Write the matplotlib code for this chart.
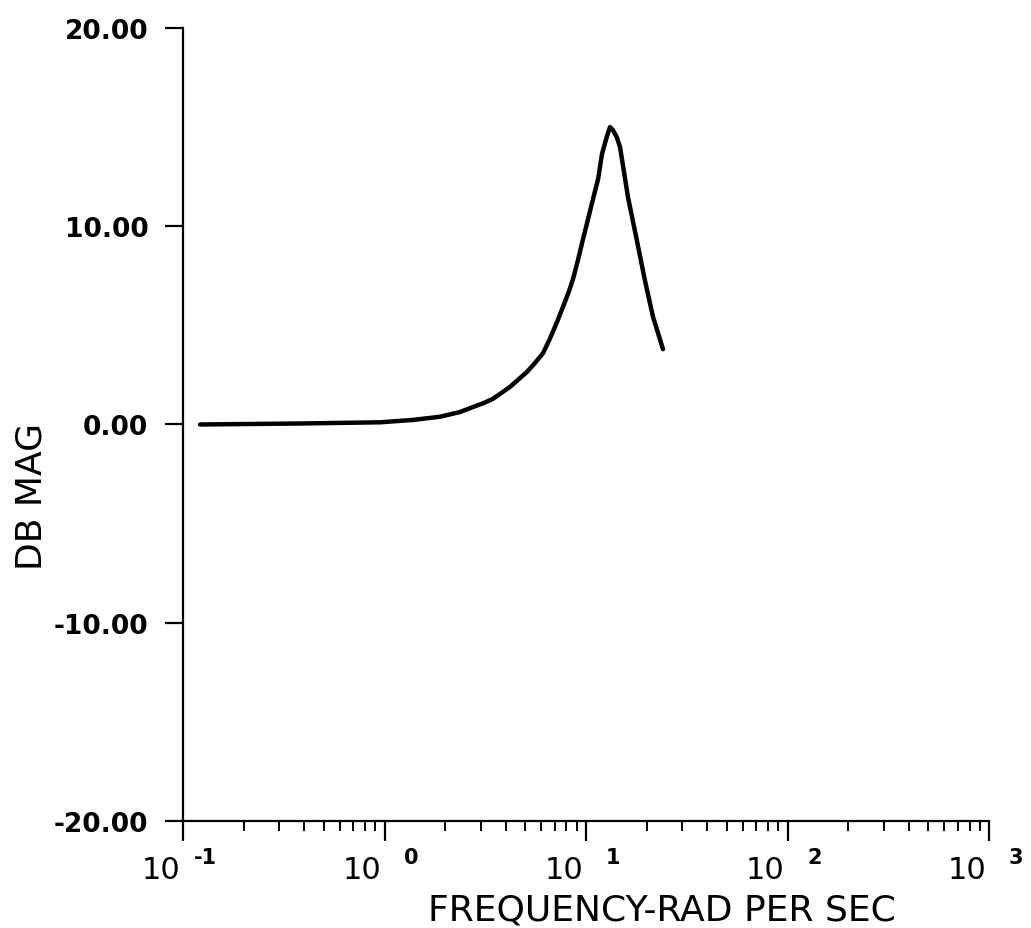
import matplotlib
matplotlib.use('Agg')
import matplotlib.pyplot as plt
import matplotlib.transforms as mtransforms
from matplotlib.ticker import LogLocator, NullFormatter, FixedLocator

# Points
freq = [0.1215, 0.381, 0.601, 0.950, 1.385, 1.885, 2.37, 2.75, 3.1, 3.45,
        4.20, 5.09, 5.58, 6.12, 6.6, 7.18, 7.87, 8.25, 8.62, 9.1,
        9.66, 10.23, 10.83, 11.48, 12.0, 12.71, 13.15, 13.6, 14.2, 14.75,
        15.4, 16.15, 17.91, 19.63, 21.5, 24.1]
db_mag = [0.0, 0.05, 0.08, 0.11, 0.23, 0.39, 0.63, 0.88, 1.08, 1.29,
          1.9, 2.65, 3.1, 3.6, 4.3, 5.17, 6.2, 6.75, 7.34, 8.25,
          9.35, 10.35, 11.37, 12.38, 13.64, 14.55, 15.0, 14.85, 14.5, 13.99,
          12.8, 11.47, 9.25, 7.24, 5.43, 3.8]

y_ticks = [-20, -10, 0, 10, 20]
y_tick_labels = ['-20.00', '-10.00', '0.00', '10.00', '20.00']
x_decades = [0.1, 1, 10, 100, 1000]
x_exponents = ['-1', '0', '1', '2', '3']

fig = plt.figure(figsize=(10.31, 9.29), dpi=100)
ax = fig.add_axes([0.1775, 0.1152, 0.7818, 0.8536])

ax.plot(freq, db_mag, color='black', linewidth=3.2, solid_capstyle='round',
        solid_joinstyle='round')

ax.set_xscale('log')
ax.set_xlim(0.1, 1000)
ax.set_ylim(-20, 20)

for side in ['top', 'right']:
    ax.spines[side].set_visible(False)
for side in ['left', 'bottom']:
    ax.spines[side].set_linewidth(1.6)

# y axis ticks
ax.yaxis.set_major_locator(FixedLocator(y_ticks))
ax.set_yticklabels(y_tick_labels, fontsize=19, fontweight='bold')
ax.tick_params(axis='y', direction='out', length=13, width=1.6, pad=12)

# x axis ticks, labels drawn by hand as "10" plus raised exponent
ax.xaxis.set_major_locator(FixedLocator(x_decades))
ax.xaxis.set_minor_locator(LogLocator(base=10, subs=range(2, 10)))
ax.xaxis.set_major_formatter(NullFormatter())
ax.xaxis.set_minor_formatter(NullFormatter())
ax.tick_params(axis='x', which='major', direction='out', length=14.5, width=1.6)
ax.tick_params(axis='x', which='minor', direction='out', length=7.5, width=1.4)

trans = mtransforms.blended_transform_factory(ax.transData, ax.transAxes)
for xd, ex in zip(x_decades, x_exponents):
    t_base = mtransforms.offset_copy(trans, fig=fig, x=-3, y=-57, units='dots')
    ax.text(xd, 0, '10', transform=t_base, ha='right', va='baseline',
            fontsize=22, clip_on=False)
    t_exp = mtransforms.offset_copy(trans, fig=fig, x=34, y=-42, units='dots')
    ax.text(xd, 0, ex, transform=t_exp, ha='right', va='baseline',
            fontsize=15, fontweight='bold', clip_on=False)

ax.set_xlabel('FREQUENCY-RAD PER SEC', fontsize=26)
ax.xaxis.label.set_va('baseline')
ax.xaxis.set_label_coords(0.594, -0.124)

ax.set_ylabel('DB MAG', fontsize=26)
ax.yaxis.label.set_va('center')
ax.yaxis.set_label_coords(-0.188, 0.41)

fig.savefig('out.png', dpi=100)
